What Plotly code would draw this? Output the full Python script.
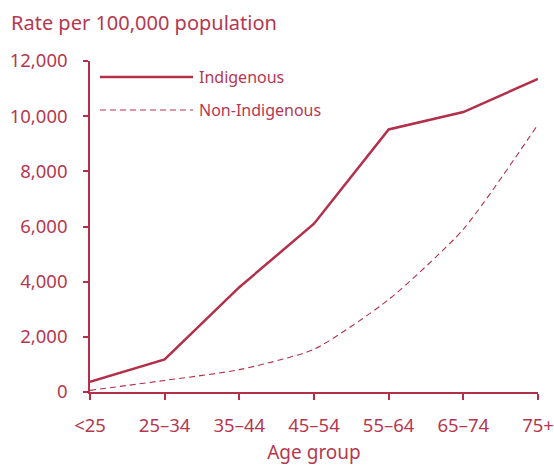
import plotly.graph_objects as go

age_groups = ["<25", "25–34", "35–44", "45–54", "55–64", "65–74", "75+"]
indigenous = [370, 1180, 3800, 6100, 9520, 10150, 11350]
non_indigenous = [60, 420, 810, 1550, 3350, 5900, 9700]
y_ticks = [0, 2000, 4000, 6000, 8000, 10000, 12000]
y_tick_labels = ["0", "2,000", "4,000", "6,000", "8,000", "10,000", "12,000"]

RED = "#B3304A"
TXT = "#B5384F"
FONT = "Noto Sans"

W, H = 554, 465
L, T, R, B = 90, 61, 16, 72.5
PW, PH = W - L - R, H - T - B


def px(xw):
    return (xw - L) / PW


def py(yw):
    return (H - B - yw) / PH


x = list(range(len(age_groups)))

fig = go.Figure()
fig.add_trace(go.Scatter(x=x, y=indigenous, mode="lines", name="Indigenous",
                         line=dict(color=RED, width=2.5)))
fig.add_trace(go.Scatter(x=x, y=non_indigenous, mode="lines", name="Non-Indigenous",
                         line=dict(color=RED, width=1.1, dash="6px,4px", shape="spline", smoothing=0.6)))

# custom legend
fig.add_shape(type="line", xref="paper", yref="paper", x0=px(100), x1=px(193),
              y0=py(77), y1=py(77), line=dict(color=RED, width=2.5))
fig.add_shape(type="line", xref="paper", yref="paper", x0=px(100), x1=px(193),
              y0=py(110), y1=py(110), line=dict(color=RED, width=1.1, dash="6px,4px"))
fig.add_annotation(text="Indigenous", xref="paper", yref="paper", x=px(197), y=py(77),
                   xanchor="left", yanchor="middle", showarrow=False, font=dict(family=FONT, size=16, color=TXT))
fig.add_annotation(text="Non-Indigenous", xref="paper", yref="paper", x=px(197), y=py(110),
                   xanchor="left", yanchor="middle", showarrow=False, font=dict(family=FONT, size=16, color=TXT))

fig.add_annotation(text="Rate per 100,000 population", xref="paper", yref="paper",
                   x=px(9), y=py(22), xanchor="left", yanchor="middle",
                   showarrow=False, font=dict(family=FONT, size=20, color=TXT))

fig.update_layout(
    width=W, height=H,
    margin=dict(l=L, r=R, t=T, b=B, autoexpand=False),
    paper_bgcolor="white", plot_bgcolor="white",
    showlegend=False,
    font=dict(family=FONT, color=TXT, size=18),
)
fig.update_xaxes(range=[0, 6], tickvals=x, ticktext=age_groups, showgrid=False, zeroline=False,
                 automargin=False, ticklabeloverflow="allow",
                 showline=True, linecolor=RED, linewidth=1.5, ticks="outside", ticklen=6,
                 tickcolor=RED, tickwidth=1.5, ticklabelstandoff=10,
                 tickfont=dict(family=FONT, size=18.5, color=TXT),
                 title=dict(text="Age group", font=dict(family=FONT, size=19, color=TXT), standoff=10))
fig.update_yaxes(range=[0, 12000], tickvals=y_ticks, ticktext=y_tick_labels, showgrid=False, zeroline=False,
                 automargin=False,
                 showline=True, linecolor=RED, linewidth=1.5, ticks="outside", ticklen=5,
                 tickcolor=RED, tickwidth=1.5, ticklabelstandoff=12,
                 tickfont=dict(family=FONT, size=18.5, color=TXT))

fig.write_html("out.html", config={"displayModeBar": False},
               post_script="document.body.style.margin='0';document.body.style.overflow='hidden';")
